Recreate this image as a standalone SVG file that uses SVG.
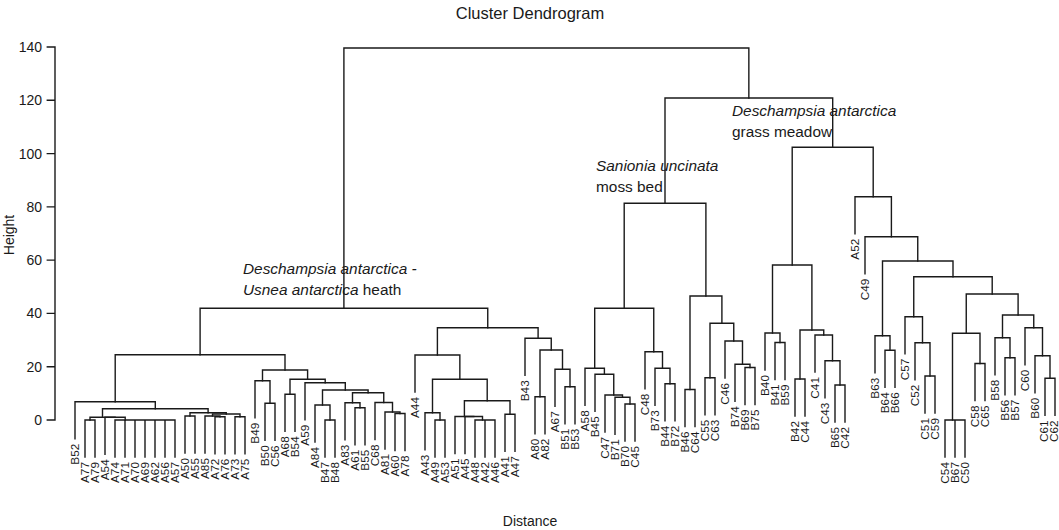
<svg xmlns="http://www.w3.org/2000/svg" width="1059" height="530" viewBox="0 0 1059 530">
<style>
.ln{fill:none;stroke:#1a1a1a;stroke-width:1.4;stroke-linecap:square}
.lf{font-family:"Liberation Sans",Arial,sans-serif;font-size:11.8px;fill:#1a1a1a;text-anchor:end}
.tk{font-family:"Liberation Sans",Arial,sans-serif;font-size:14px;fill:#1a1a1a;text-anchor:end}
.ax{font-family:"Liberation Sans",Arial,sans-serif;font-size:14px;fill:#1a1a1a;text-anchor:middle}
.ttl{font-family:"Liberation Sans",Arial,sans-serif;font-size:16.5px;fill:#1a1a1a;text-anchor:middle}
.an{font-family:"Liberation Sans",Arial,sans-serif;font-size:15.4px;fill:#1a1a1a}
.it{font-style:italic}
</style>
<rect width="1059" height="530" fill="#ffffff"/>
<text class="ttl" x="530" y="19">Cluster Dendrogram</text>
<text class="ax" x="530" y="526">Distance</text>
<text class="ax" transform="translate(14,235) rotate(-90)">Height</text>
<g id="axis">
<path class="ln" d="M55,47V420M47.3,420H55M47.3,366.7H55M47.3,313.4H55M47.3,260.1H55M47.3,206.9H55M47.3,153.6H55M47.3,100.3H55M47.3,47H55"/>
<text class="tk" x="42" y="425">0</text>
<text class="tk" x="42" y="371.7">20</text>
<text class="tk" x="42" y="318.4">40</text>
<text class="tk" x="42" y="265.1">60</text>
<text class="tk" x="42" y="211.9">80</text>
<text class="tk" x="42" y="158.6">100</text>
<text class="tk" x="42" y="105.3">120</text>
<text class="tk" x="42" y="52">140</text>
</g>
<g id="connectors">
<path class="ln" d="M85,457V420H95V457"/>
<path class="ln" d="M115,457V420H175V457M125,420V457M135,420V457M145,420V457M155,420V457M165,420V457"/>
<path class="ln" d="M105,454.3V417.3H125.2V420"/>
<path class="ln" d="M90,420V417.3H115.1"/>
<path class="ln" d="M185,453V416H195V453"/>
<path class="ln" d="M215,453.7V416.7H225V453.7"/>
<path class="ln" d="M205,453V416H220V416.7"/>
<path class="ln" d="M235,453.7V416.7H245V453.7"/>
<path class="ln" d="M212.5,416V414H240V416.7"/>
<path class="ln" d="M190,416V412.7H226.25V414"/>
<path class="ln" d="M102.5,417.3V408.7H208.1V412.7"/>
<path class="ln" d="M75,438.7V401.7H155.3V408.7"/>
<path class="ln" d="M265,440.3V403.3H275V440.3"/>
<path class="ln" d="M255,417.7V380.7H270V403.3"/>
<path class="ln" d="M285,431.3V394.3H295V431.3"/>
<path class="ln" d="M325,457V420H335V457"/>
<path class="ln" d="M315,442V405H330V420"/>
<path class="ln" d="M355,444.7V407.7H365V444.7"/>
<path class="ln" d="M345,439.7V402.7H360V407.7"/>
<path class="ln" d="M395,450.5V413.5H405V450.5"/>
<path class="ln" d="M385,449V412H400V413.5"/>
<path class="ln" d="M375,439.5V402.5H392.5V412"/>
<path class="ln" d="M352.5,402.7V392.7H383.75V402.5"/>
<path class="ln" d="M322.5,405V390H368.1V392.7"/>
<path class="ln" d="M305,419.7V382.7H345.3V390"/>
<path class="ln" d="M290,394.3V379.3H325.2V382.7"/>
<path class="ln" d="M262.5,380.7V370H307.6V379.3"/>
<path class="ln" d="M115.2,401.7V354.7H285V370"/>
<path class="ln" d="M435,457V420H445V457"/>
<path class="ln" d="M425,449.7V412.7H440V420"/>
<path class="ln" d="M475,457V420H495V457M485,420V457"/>
<path class="ln" d="M465,453.5V416.5H482.5V420"/>
<path class="ln" d="M455,453.5V416.5H473.75"/>
<path class="ln" d="M505,451.3V414.3H515V451.3"/>
<path class="ln" d="M464.4,416.5V400.7H510V414.3"/>
<path class="ln" d="M432.5,412.7V379.3H487.2V400.7"/>
<path class="ln" d="M415,392V355H459.85V379.3"/>
<path class="ln" d="M535,433.7V396.7H545V433.7"/>
<path class="ln" d="M565,423.7V386.7H575V423.7"/>
<path class="ln" d="M555,406.3V369.3H570V386.7"/>
<path class="ln" d="M540,396.7V350H562.5V369.3"/>
<path class="ln" d="M525,375.3V338.3H551.25V350"/>
<path class="ln" d="M437.4,355V327.7H538.1V338.3"/>
<path class="ln" d="M200.1,354.7V308.3H487.75V327.7"/>
<path class="ln" d="M625,441V404H635V441"/>
<path class="ln" d="M615,434.3V397.3H630V404"/>
<path class="ln" d="M605,432V395H622.5V397.3"/>
<path class="ln" d="M595,411.3V374.3H613.75V395"/>
<path class="ln" d="M585,405.3V368.3H604.4V374.3"/>
<path class="ln" d="M665,420.7V383.7H675V420.7"/>
<path class="ln" d="M655,405.3V368.3H670V383.7"/>
<path class="ln" d="M645,388.7V351.7H662.5V368.3"/>
<path class="ln" d="M594.7,368.3V308.3H653.75V351.7"/>
<path class="ln" d="M685,426.5V389.5H695V426.5"/>
<path class="ln" d="M705,414.7V377.7H715V414.7"/>
<path class="ln" d="M745,404.5V367.5H755V404.5"/>
<path class="ln" d="M735,401.3V364.3H750V367.5"/>
<path class="ln" d="M725,378V341H742.5V364.3"/>
<path class="ln" d="M710,377.7V323.3H733.75V341"/>
<path class="ln" d="M690,389.5V296H721.9V323.3"/>
<path class="ln" d="M624.2,308.3V203.3H705.9V296"/>
<path class="ln" d="M775,379.5V342.5H785V379.5"/>
<path class="ln" d="M765,370V333H780V342.5"/>
<path class="ln" d="M795,416V379H805V416"/>
<path class="ln" d="M835,422V385H845V422"/>
<path class="ln" d="M825,397.7V360.7H840V385"/>
<path class="ln" d="M815,372V335H832.5V360.7"/>
<path class="ln" d="M800,379V330H823.75V335"/>
<path class="ln" d="M772.5,333V265H811.9V330"/>
<path class="ln" d="M885,387.3V350.3H895V387.3"/>
<path class="ln" d="M875,372.7V335.7H890V350.3"/>
<path class="ln" d="M925,413V376H935V413"/>
<path class="ln" d="M915,379.7V342.7H930V376"/>
<path class="ln" d="M905,353.7V316.7H922.5V342.7"/>
<path class="ln" d="M945,457V420H965V457M955,420V457"/>
<path class="ln" d="M975,400.5V363.5H985V400.5"/>
<path class="ln" d="M952.5,420V333.3H980V363.5"/>
<path class="ln" d="M1005,394.7V357.7H1015V394.7"/>
<path class="ln" d="M995,374.7V337.7H1010V357.7"/>
<path class="ln" d="M1045,415.3V378.3H1055V415.3"/>
<path class="ln" d="M1035,392.7V355.7H1050V378.3"/>
<path class="ln" d="M1025,364.7V327.7H1042.5V355.7"/>
<path class="ln" d="M1002.5,337.7V315H1033.75V327.7"/>
<path class="ln" d="M966.25,333.3V294H1018.1V315"/>
<path class="ln" d="M913.75,316.7V276.7H992.2V294"/>
<path class="ln" d="M882.5,335.7V261H953V276.7"/>
<path class="ln" d="M865,273.7V236.7H917.75V261"/>
<path class="ln" d="M855,233.7V196.7H891.4V236.7"/>
<path class="ln" d="M792.2,265V147.3H873.2V196.7"/>
<path class="ln" d="M665,203.3V98H832.7V147.3"/>
<path class="ln" d="M343.9,308.3V48H748.85V98"/>
</g>
<g id="leaves">
<g id="leaf-B52"><text class="lf" transform="translate(79.2,443.7) rotate(-90)">B52</text></g>
<g id="leaf-A77"><text class="lf" transform="translate(89.2,462) rotate(-90)">A77</text></g>
<g id="leaf-A79"><text class="lf" transform="translate(99.2,462) rotate(-90)">A79</text></g>
<g id="leaf-A54"><text class="lf" transform="translate(109.2,459.3) rotate(-90)">A54</text></g>
<g id="leaf-A74"><text class="lf" transform="translate(119.2,462) rotate(-90)">A74</text></g>
<g id="leaf-A71"><text class="lf" transform="translate(129.2,462) rotate(-90)">A71</text></g>
<g id="leaf-A70"><text class="lf" transform="translate(139.2,462) rotate(-90)">A70</text></g>
<g id="leaf-A69"><text class="lf" transform="translate(149.2,462) rotate(-90)">A69</text></g>
<g id="leaf-A62"><text class="lf" transform="translate(159.2,462) rotate(-90)">A62</text></g>
<g id="leaf-A56"><text class="lf" transform="translate(169.2,462) rotate(-90)">A56</text></g>
<g id="leaf-A57"><text class="lf" transform="translate(179.2,462) rotate(-90)">A57</text></g>
<g id="leaf-A50"><text class="lf" transform="translate(189.2,458) rotate(-90)">A50</text></g>
<g id="leaf-A55"><text class="lf" transform="translate(199.2,458) rotate(-90)">A55</text></g>
<g id="leaf-A85"><text class="lf" transform="translate(209.2,458) rotate(-90)">A85</text></g>
<g id="leaf-A72"><text class="lf" transform="translate(219.2,458.7) rotate(-90)">A72</text></g>
<g id="leaf-A76"><text class="lf" transform="translate(229.2,458.7) rotate(-90)">A76</text></g>
<g id="leaf-A73"><text class="lf" transform="translate(239.2,458.7) rotate(-90)">A73</text></g>
<g id="leaf-A75"><text class="lf" transform="translate(249.2,458.7) rotate(-90)">A75</text></g>
<g id="leaf-B49"><text class="lf" transform="translate(259.2,422.7) rotate(-90)">B49</text></g>
<g id="leaf-B50"><text class="lf" transform="translate(269.2,445.3) rotate(-90)">B50</text></g>
<g id="leaf-C56"><text class="lf" transform="translate(279.2,445.3) rotate(-90)">C56</text></g>
<g id="leaf-A68"><text class="lf" transform="translate(289.2,436.3) rotate(-90)">A68</text></g>
<g id="leaf-B54"><text class="lf" transform="translate(299.2,436.3) rotate(-90)">B54</text></g>
<g id="leaf-A59"><text class="lf" transform="translate(309.2,424.7) rotate(-90)">A59</text></g>
<g id="leaf-A84"><text class="lf" transform="translate(319.2,447) rotate(-90)">A84</text></g>
<g id="leaf-B47"><text class="lf" transform="translate(329.2,462) rotate(-90)">B47</text></g>
<g id="leaf-B48"><text class="lf" transform="translate(339.2,462) rotate(-90)">B48</text></g>
<g id="leaf-A83"><text class="lf" transform="translate(349.2,444.7) rotate(-90)">A83</text></g>
<g id="leaf-A61"><text class="lf" transform="translate(359.2,449.7) rotate(-90)">A61</text></g>
<g id="leaf-B55"><text class="lf" transform="translate(369.2,449.7) rotate(-90)">B55</text></g>
<g id="leaf-C68"><text class="lf" transform="translate(379.2,444.5) rotate(-90)">C68</text></g>
<g id="leaf-A81"><text class="lf" transform="translate(389.2,454) rotate(-90)">A81</text></g>
<g id="leaf-A60"><text class="lf" transform="translate(399.2,455.5) rotate(-90)">A60</text></g>
<g id="leaf-A78"><text class="lf" transform="translate(409.2,455.5) rotate(-90)">A78</text></g>
<g id="leaf-A44"><text class="lf" transform="translate(419.2,397) rotate(-90)">A44</text></g>
<g id="leaf-A43"><text class="lf" transform="translate(429.2,454.7) rotate(-90)">A43</text></g>
<g id="leaf-A49"><text class="lf" transform="translate(439.2,462) rotate(-90)">A49</text></g>
<g id="leaf-A53"><text class="lf" transform="translate(449.2,462) rotate(-90)">A53</text></g>
<g id="leaf-A51"><text class="lf" transform="translate(459.2,458.5) rotate(-90)">A51</text></g>
<g id="leaf-A45"><text class="lf" transform="translate(469.2,458.5) rotate(-90)">A45</text></g>
<g id="leaf-A48"><text class="lf" transform="translate(479.2,462) rotate(-90)">A48</text></g>
<g id="leaf-A42"><text class="lf" transform="translate(489.2,462) rotate(-90)">A42</text></g>
<g id="leaf-A46"><text class="lf" transform="translate(499.2,462) rotate(-90)">A46</text></g>
<g id="leaf-A41"><text class="lf" transform="translate(509.2,456.3) rotate(-90)">A41</text></g>
<g id="leaf-A47"><text class="lf" transform="translate(519.2,456.3) rotate(-90)">A47</text></g>
<g id="leaf-B43"><text class="lf" transform="translate(529.2,380.3) rotate(-90)">B43</text></g>
<g id="leaf-A80"><text class="lf" transform="translate(539.2,438.7) rotate(-90)">A80</text></g>
<g id="leaf-A82"><text class="lf" transform="translate(549.2,438.7) rotate(-90)">A82</text></g>
<g id="leaf-A67"><text class="lf" transform="translate(559.2,411.3) rotate(-90)">A67</text></g>
<g id="leaf-B51"><text class="lf" transform="translate(569.2,428.7) rotate(-90)">B51</text></g>
<g id="leaf-B53"><text class="lf" transform="translate(579.2,428.7) rotate(-90)">B53</text></g>
<g id="leaf-A58"><text class="lf" transform="translate(589.2,410.3) rotate(-90)">A58</text></g>
<g id="leaf-B45"><text class="lf" transform="translate(599.2,416.3) rotate(-90)">B45</text></g>
<g id="leaf-C47"><text class="lf" transform="translate(609.2,437) rotate(-90)">C47</text></g>
<g id="leaf-B71"><text class="lf" transform="translate(619.2,439.3) rotate(-90)">B71</text></g>
<g id="leaf-B70"><text class="lf" transform="translate(629.2,446) rotate(-90)">B70</text></g>
<g id="leaf-C45"><text class="lf" transform="translate(639.2,446) rotate(-90)">C45</text></g>
<g id="leaf-C48"><text class="lf" transform="translate(649.2,393.7) rotate(-90)">C48</text></g>
<g id="leaf-B73"><text class="lf" transform="translate(659.2,410.3) rotate(-90)">B73</text></g>
<g id="leaf-B44"><text class="lf" transform="translate(669.2,425.7) rotate(-90)">B44</text></g>
<g id="leaf-B72"><text class="lf" transform="translate(679.2,425.7) rotate(-90)">B72</text></g>
<g id="leaf-B46"><text class="lf" transform="translate(689.2,431.5) rotate(-90)">B46</text></g>
<g id="leaf-C64"><text class="lf" transform="translate(699.2,431.5) rotate(-90)">C64</text></g>
<g id="leaf-C55"><text class="lf" transform="translate(709.2,419.7) rotate(-90)">C55</text></g>
<g id="leaf-C63"><text class="lf" transform="translate(719.2,419.7) rotate(-90)">C63</text></g>
<g id="leaf-C46"><text class="lf" transform="translate(729.2,383) rotate(-90)">C46</text></g>
<g id="leaf-B74"><text class="lf" transform="translate(739.2,406.3) rotate(-90)">B74</text></g>
<g id="leaf-B69"><text class="lf" transform="translate(749.2,409.5) rotate(-90)">B69</text></g>
<g id="leaf-B75"><text class="lf" transform="translate(759.2,409.5) rotate(-90)">B75</text></g>
<g id="leaf-B40"><text class="lf" transform="translate(769.2,375) rotate(-90)">B40</text></g>
<g id="leaf-B41"><text class="lf" transform="translate(779.2,384.5) rotate(-90)">B41</text></g>
<g id="leaf-B59"><text class="lf" transform="translate(789.2,384.5) rotate(-90)">B59</text></g>
<g id="leaf-B42"><text class="lf" transform="translate(799.2,421) rotate(-90)">B42</text></g>
<g id="leaf-C44"><text class="lf" transform="translate(809.2,421) rotate(-90)">C44</text></g>
<g id="leaf-C41"><text class="lf" transform="translate(819.2,377) rotate(-90)">C41</text></g>
<g id="leaf-C43"><text class="lf" transform="translate(829.2,402.7) rotate(-90)">C43</text></g>
<g id="leaf-B65"><text class="lf" transform="translate(839.2,427) rotate(-90)">B65</text></g>
<g id="leaf-C42"><text class="lf" transform="translate(849.2,427) rotate(-90)">C42</text></g>
<g id="leaf-A52"><text class="lf" transform="translate(859.2,238.7) rotate(-90)">A52</text></g>
<g id="leaf-C49"><text class="lf" transform="translate(869.2,278.7) rotate(-90)">C49</text></g>
<g id="leaf-B63"><text class="lf" transform="translate(879.2,377.7) rotate(-90)">B63</text></g>
<g id="leaf-B64"><text class="lf" transform="translate(889.2,392.3) rotate(-90)">B64</text></g>
<g id="leaf-B66"><text class="lf" transform="translate(899.2,392.3) rotate(-90)">B66</text></g>
<g id="leaf-C57"><text class="lf" transform="translate(909.2,358.7) rotate(-90)">C57</text></g>
<g id="leaf-C52"><text class="lf" transform="translate(919.2,384.7) rotate(-90)">C52</text></g>
<g id="leaf-C51"><text class="lf" transform="translate(929.2,418) rotate(-90)">C51</text></g>
<g id="leaf-C59"><text class="lf" transform="translate(939.2,418) rotate(-90)">C59</text></g>
<g id="leaf-C54"><text class="lf" transform="translate(949.2,462) rotate(-90)">C54</text></g>
<g id="leaf-B67"><text class="lf" transform="translate(959.2,462) rotate(-90)">B67</text></g>
<g id="leaf-C50"><text class="lf" transform="translate(969.2,462) rotate(-90)">C50</text></g>
<g id="leaf-C58"><text class="lf" transform="translate(979.2,405.5) rotate(-90)">C58</text></g>
<g id="leaf-C65"><text class="lf" transform="translate(989.2,405.5) rotate(-90)">C65</text></g>
<g id="leaf-B58"><text class="lf" transform="translate(999.2,379.7) rotate(-90)">B58</text></g>
<g id="leaf-B56"><text class="lf" transform="translate(1009.2,399.7) rotate(-90)">B56</text></g>
<g id="leaf-B57"><text class="lf" transform="translate(1019.2,399.7) rotate(-90)">B57</text></g>
<g id="leaf-C60"><text class="lf" transform="translate(1029.2,369.7) rotate(-90)">C60</text></g>
<g id="leaf-B60"><text class="lf" transform="translate(1039.2,397.7) rotate(-90)">B60</text></g>
<g id="leaf-C61"><text class="lf" transform="translate(1048.4,420.3) rotate(-90)">C61</text></g>
<g id="leaf-C62"><text class="lf" transform="translate(1058.1,420.3) rotate(-90)">C62</text></g>
</g>
<g id="label-heath">
<text class="an it" x="243" y="274">Deschampsia antarctica -</text>
<text class="an" x="243" y="295"><tspan class="it">Usnea antarctica</tspan> heath</text>
</g>
<g id="label-moss">
<text class="an it" x="596" y="170.5">Sanionia uncinata</text>
<text class="an" x="596" y="191.5">moss bed</text>
</g>
<g id="label-grass">
<text class="an it" x="732" y="115.5">Deschampsia antarctica</text>
<text class="an" x="732" y="136.5">grass meadow</text>
</g>
</svg>
